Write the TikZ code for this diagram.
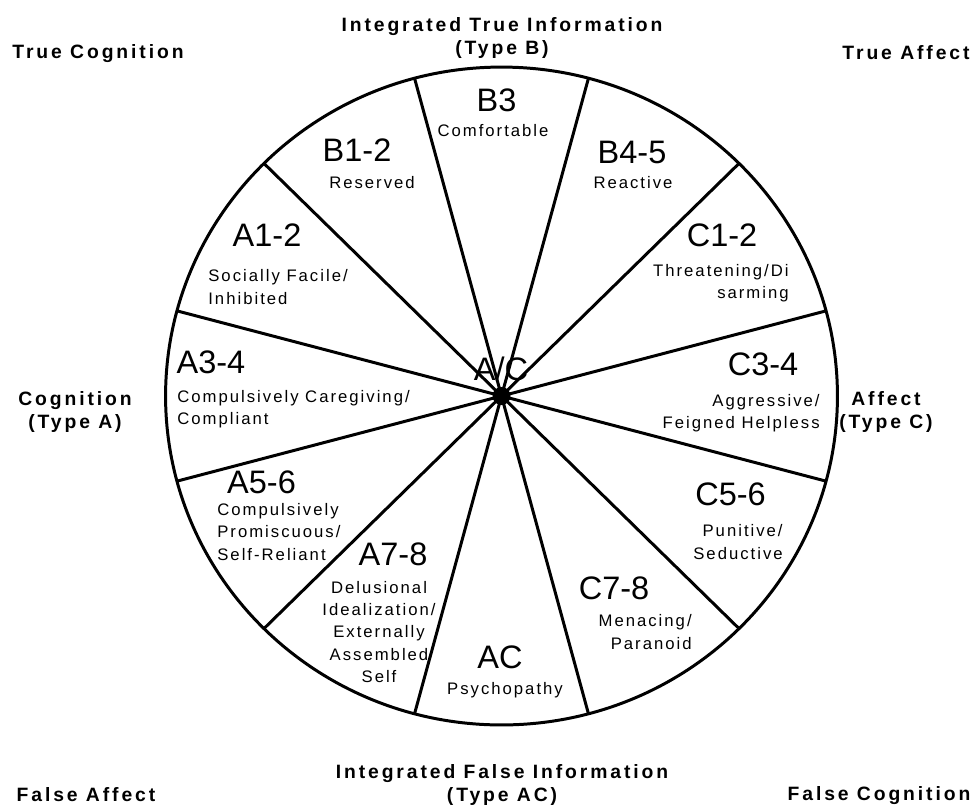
\documentclass[tikz,border=0pt]{standalone}
\usepackage{fontspec}
\setmainfont{Liberation Sans}
\newfontfamily\HeadFont{Liberation Sans}[LetterSpace=15]
\newfontfamily\NoteFont{Liberation Sans}[LetterSpace=12]

\begin{document}
\begin{tikzpicture}[
    % Environment Config
    x=0.02cm, y=-0.02cm,
    Rim/.style={% Style for the wheel outline and the spokes
      line width=1.7pt,
      line join=round
    },
    Title/.style={% Style for the pattern names
      font=\fontsize{18.5}{20}\selectfont,
      inner sep=0pt
    },
    Note/.style={% Style for the pattern descriptions
      font=\NoteFont\fontsize{9.5}{12.8}\selectfont,
      inner sep=0pt
    },
    Heading/.style={% Style for the outer headings
      font=\HeadFont\bfseries\fontsize{11}{13.1}\selectfont,
      align=center,
      inner sep=0pt
    }
  ]

  \useasboundingbox (0,0) rectangle (976,809);

  % Centre of the wheel
  \coordinate (Ctr) at (501.5,396);

  %===Wheel and rim points (angles negated, y runs downwards)===
  \begin{scope}[shift={(Ctr)}]
    \draw[Rim] (0,0) ellipse [x radius=6.72cm, y radius=6.58cm];
    \path
      (-15:336 and 329)  coordinate (R15)
      (-45:336 and 329)  coordinate (R45)
      (-75:336 and 329)  coordinate (R75)
      (-105:336 and 329) coordinate (R105)
      (-135:336 and 329) coordinate (R135)
      (-165:336 and 329) coordinate (R165)
      (165:336 and 329)  coordinate (R195)
      (135:336 and 329)  coordinate (R225)
      (105:336 and 329)  coordinate (R255)
      (75:336 and 329)   coordinate (R285)
      (45:336 and 329)   coordinate (R315)
      (15:336 and 329)   coordinate (R345);
  \end{scope}

  % Draw the spokes
  \draw[Rim]
  (Ctr) -- (R15)
  (Ctr) -- (R45)
  (Ctr) -- (R75)
  (Ctr) -- (R105)
  (Ctr) -- (R135)
  (Ctr) -- (R165)
  (Ctr) -- (R195)
  (Ctr) -- (R225)
  (Ctr) -- (R255)
  (Ctr) -- (R285)
  (Ctr) -- (R315)
  (Ctr) -- (R345);
  \fill (Ctr) circle [radius=0.18cm];
  \node[Title] (AslashC) at (501,369) {A/C};

  % Put the pattern names
  \node[Title] (B3)  at (496.5,100) {B3};
  \node[Title] (B12) at (357,150)   {B1-2};
  \node[Title] (B45) at (632,152)   {B4-5};
  \node[Title] (A12) at (267,235)   {A1-2};
  \node[Title] (C12) at (722,235)   {C1-2};
  \node[Title] (A34) at (211,362)   {A3-4};
  \node[Title] (C34) at (763,364)   {C3-4};
  \node[Title] (A56) at (261.5,482) {A5-6};
  \node[Title] (C56) at (730.5,494) {C5-6};
  \node[Title] (A78) at (393,554)   {A7-8};
  \node[Title] (C78) at (614,588)   {C7-8};
  \node[Title] (AC)  at (500,657)   {AC};

  % Put the descriptions
  \node[Note] (B3n)  at (493,131) {Comfortable};
  \node[Note] (B12n) at (372,183) {Reserved};
  \node[Note] (B45n) at (633,183) {Reactive};
  \node[Note, align=left, anchor=west] (A12n) at (208,287)
      {Socially Facile/\\Inhibited};
  \node[Note, align=right, anchor=east] (C12n) at (789,283)
      {Threatening/Di\\sarming};
  \node[Note, align=left, anchor=west] (A34n) at (177,409)
      {Compulsively Caregiving/\\Compliant};
  \node[Note, align=right, anchor=east] (C34n) at (820,413)
      {Aggressive/\\Feigned Helpless};
  \node[Note, align=left, anchor=west] (A56n) at (217,532)
      {Compulsively\\Promiscuous/\\Self-Reliant};
  \node[Note, align=right, anchor=east] (C56n) at (783,542)
      {Punitive/\\Seductive};
  \node[Note, align=center] (A78n) at (379,632)
      {Delusional\\Idealization/\\Externally\\Assembled\\Self};
  \node[Note, align=right, anchor=east] (C78n) at (692,632)
      {Menacing/\\Paranoid};
  \node[Note] (ACn) at (505,690) {Psychopathy};

  %===Outer headings===
  \node[Heading] (TopHead) at (502,38)
      {Integrated True Information\\(Type B)};
  \node[Heading] (TrueCog) at (98,54) {True Cognition};
  \node[Heading] (TrueAff) at (906,52.5) {True Affect};
  \node[Heading] (TypeA) at (75,411.5) {Cognition\\(Type A)};
  \node[Heading] (TypeC) at (886,411.5) {Affect\\(Type C)};
  \node[Heading] (BotHead) at (502,785)
      {Integrated False Information\\(Type AC)};
  \node[Heading] (FalseAff) at (86,795) {False Affect};
  \node[Heading] (FalseCog) at (879,796) {False Cognition};

\end{tikzpicture}
\end{document}
